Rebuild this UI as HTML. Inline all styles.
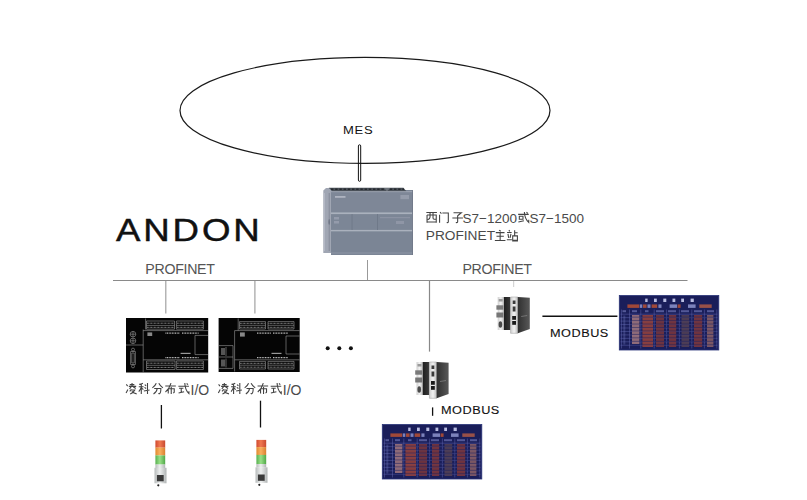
<!DOCTYPE html>
<html><head><meta charset="utf-8">
<style>
html,body{margin:0;padding:0;background:#fff;width:807px;height:500px;overflow:hidden;}
body{position:relative;font-family:"Liberation Sans",sans-serif;}
.t{position:absolute;white-space:nowrap;line-height:1;}
svg{position:absolute;left:0;top:0;}
</style></head><body>
<svg width="807" height="500" viewBox="0 0 807 500">
<defs>
<path id="c-xi" d="M4 8H96M10 30V96M10 30H90V96M10 90H90M36 8V46Q36 62 16 70M62 8V56Q62 66 72 66H90"/>
<path id="c-men" d="M16 4L28 17M12 28V98M36 12H88V88Q88 98 74 95"/>
<path id="c-zi" d="M14 10H82L50 36M50 34V88Q50 98 34 95M4 56H96"/>
<path id="c-huo" d="M4 24H96M14 40H46V66H14ZM6 90L54 80M58 4Q60 62 96 94V70M76 6L88 15"/>
<path id="c-zhu" d="M40 2L56 12M12 24H88M18 55H82M50 24V92M4 92H96"/>
<path id="c-zhan" d="M20 2L27 13M4 22H44M12 34L18 70M38 34L30 70M2 86H46M70 2V52M70 25H96M53 52H94V97H53ZM53 90H94"/>
<path id="c-ling" d="M6 14L18 28M4 88L20 58M56 2V30M36 16H76M28 31H92M48 35L34 52M66 35L88 50M50 56L36 74M46 62H80Q70 84 40 98M54 76Q74 92 96 96"/>
<path id="c-ke" d="M40 4Q26 12 8 14M4 34H46M26 12V98M26 38Q18 62 4 76M28 44L44 60M56 16L68 26M54 40L68 50M48 72L98 62M80 2V98"/>
<path id="c-fen" d="M38 4Q28 28 4 44M60 4Q72 28 96 44M20 50H78Q78 92 64 96L56 92M46 50Q44 80 14 98"/>
<path id="c-bu" d="M4 28H96M54 2Q40 50 6 80M30 52V92M30 52H82V80Q82 88 72 86M56 36V98"/>
<path id="c-shi" d="M4 30H96M60 2Q62 64 96 94V74M76 6L88 16M10 48H48M29 48V84M6 88L54 78"/>
</defs>

<!-- ellipse -->
<ellipse cx="365" cy="110.4" rx="185" ry="53" fill="none" stroke="#1a1a1a" stroke-width="1.2"/>
<!-- capsule -->
<rect x="358.4" y="144.8" width="2.3" height="36.5" rx="1.15" fill="none" stroke="#111" stroke-width="1"/>

<!-- PLC -->
<g id="plc">
<path d="M330.4 190H412.7V255H336L332.5 252.5H330.4Z" fill="#7c8696"/>
<path d="M323.3 190.5L326 188H331V253H323.3Z" fill="#a0a6b3"/>
<rect x="328.6" y="193" width="1.4" height="58" fill="#8c92a0"/>
<rect x="324.2" y="193" width="0.8" height="58" fill="#b8bcc8"/>
<ellipse cx="329.2" cy="222" rx="0.8" ry="3" fill="#6f7686"/>
<path d="M328.7 187.8H403.5L406.5 191.6H332.5Z" fill="#4a5058"/>
<path d="M331 189.2H404" stroke="#25292e" stroke-width="1.6" stroke-dasharray="2.4 1.8"/>
<path d="M384 188L387 191.5L390 188Z" fill="#6d737b"/>
<rect x="331" y="191.3" width="81.7" height="1.1" fill="#a6acb8"/>
<rect x="331" y="192.4" width="81.7" height="20" fill="#7e8797"/>
<rect x="335" y="196" width="10.5" height="1.8" fill="#aeb4c0"/>
<rect x="400.4" y="195" width="8.6" height="4.2" fill="#959cab"/>
<rect x="331" y="212.4" width="81.7" height="1.7" fill="#aab1bd"/>
<rect x="331" y="229.9" width="81.7" height="1.7" fill="#aab1bd"/>
<rect x="351.6" y="214" width="0.9" height="16" fill="#6e7888"/>
<rect x="377" y="214" width="0.9" height="16" fill="#6e7888"/>
<rect x="334" y="217" width="5" height="2.5" fill="#949bab"/>
<rect x="334" y="221" width="5" height="2.5" fill="#949bab"/>
<rect x="380" y="217" width="30" height="1.2" fill="#8c93a3"/>
<rect x="396" y="221" width="8" height="3" fill="#8f96a6"/>
<rect x="331" y="231.6" width="81.7" height="23.4" fill="#7b8595"/><rect x="331" y="252.5" width="81.7" height="1" fill="#8d96a5"/>
<rect x="412" y="190" width="0.8" height="65" fill="#6d7585"/>
</g>

<!-- bus -->
<line x1="113" y1="280.5" x2="687.5" y2="280.5" stroke="#8a8a8a" stroke-width="1.2"/>
<line x1="367.5" y1="260" x2="367.5" y2="280" stroke="#999" stroke-width="1"/>
<line x1="165.8" y1="281" x2="165.8" y2="313.6" stroke="#a2a2a2" stroke-width="1.2"/>
<line x1="254.9" y1="281" x2="254.9" y2="313.6" stroke="#a2a2a2" stroke-width="1.2"/>
<line x1="429.5" y1="281" x2="429.5" y2="351.6" stroke="#888" stroke-width="1.2"/>
<line x1="513.7" y1="281" x2="513.7" y2="287" stroke="#ccc" stroke-width="1"/>

<!-- IO modules -->
<g id="io1">
<rect x="126" y="318" width="82.2" height="54.5" fill="#050505"/>
<g fill="none" stroke="#9a9a9a" stroke-width="0.6">
<path d="M143.2 329.5V372.3M145.6 318.5V329.5M143.2 330.6H208M126 345H143.2M143.2 359.8H208"/>
<path d="M146.5 321H174.5V329.2H146.5ZM176.4 321H203.4V329.2H176.4ZM146.5 325.4H174.5M176.4 325.4H203.4"/>
<path d="M146.5 361H175V369.5H146.5ZM176.4 361H203.4V369.5H176.4ZM146.5 365.3H175M176.4 365.3H203.4"/>
<path d="M195 335.4H208M195 354.6H208M195 335.4V354.6"/>
<circle cx="133" cy="334.2" r="2.8"/><circle cx="133" cy="340.8" r="2.8"/>
<path d="M130.6 351.5H135.4V364.5H130.6Z"/><circle cx="133" cy="349.6" r="1.5"/><circle cx="133" cy="366.4" r="1.5"/><path d="M131.8 353H134.2V363H131.8Z"/>
<path d="M130.3 334.2H135.7M133 331.4V337M130.3 340.8H135.7M133 338V343.6"/>
</g>
<g stroke="#cfcfcf" stroke-width="1.2" stroke-dasharray="0.9 0.7">
<path d="M165.5 333.2H180M182 333.2H198.5M165.5 357.6H180M182 357.6H198.5"/>
</g>
<g stroke="#b0b0b0" stroke-width="0.9" stroke-dasharray="0.8 0.6">
<path d="M147 323.2H174M177 323.2H203M147 327.3H174M177 327.3H203M147 363.2H174M177 363.2H203M147 367.4H174M177 367.4H203"/>
</g>
<rect x="147.4" y="332.4" width="4.8" height="3.6" fill="#888"/>
<rect x="180.6" y="352.8" width="10" height="1.2" fill="#999"/>
</g>
<g id="io2">
<rect x="218.6" y="318" width="81.1" height="54" fill="#050505"/>
<g fill="none" stroke="#9a9a9a" stroke-width="0.6">
<path d="M234.6 330.6V371.5M238.2 318.5V330.6M234.6 330.6H299.7M234.6 359.8H299.7"/>
<path d="M239.5 321.6H265.5V329H239.5ZM268 321.6H294V329H268ZM239.5 325.3H265.5M268 325.3H294"/>
<path d="M239.5 361.4H265.5V369H239.5ZM268 361.4H294V369H268ZM239.5 365.2H265.5M268 365.2H294"/>
<path d="M286 336H299.7M286 354H299.7M286 336V354"/>
<path d="M219 345.6H233V368.4H219M219 357H233M226 347V356M226 358.5V367.4"/>
</g>
<g stroke="#cfcfcf" stroke-width="1.2" stroke-dasharray="0.9 0.7">
<path d="M257 333.2H271M273 333.2H288M257 357.6H271M273 357.6H288"/>
</g>
<g stroke="#b0b0b0" stroke-width="0.9" stroke-dasharray="0.8 0.6">
<path d="M240 323.3H265M268.5 323.3H293.5M240 327.3H265M268.5 327.3H293.5M240 363.3H265M268.5 363.3H293.5M240 367.2H265M268.5 367.2H293.5"/>
</g>
<rect x="240" y="332.4" width="4.8" height="4.2" fill="#888"/>
<rect x="221" y="348" width="4" height="7" fill="#555"/><rect x="221" y="359.5" width="4" height="7" fill="#555"/>
<rect x="271.5" y="352.8" width="10" height="1.2" fill="#999"/>
</g>

<!-- dots -->
<circle cx="327.7" cy="348.3" r="2" fill="#111"/>
<circle cx="339.3" cy="348.3" r="2" fill="#111"/>
<circle cx="350.9" cy="348.3" r="2" fill="#111"/>

<!-- gateways -->
<defs>
<linearGradient id="gsil" x1="0" x2="1" y1="0" y2="0"><stop offset="0" stop-color="#cfcfcf"/><stop offset="0.5" stop-color="#f2f2f2"/><stop offset="1" stop-color="#bdbdbd"/></linearGradient>
<linearGradient id="gdark" x1="0" x2="1" y1="0" y2="0"><stop offset="0" stop-color="#1e1e1e"/><stop offset="1" stop-color="#3a3a3a"/></linearGradient>
<linearGradient id="gdark2" x1="0" x2="1" y1="0" y2="0"><stop offset="0" stop-color="#303030"/><stop offset="1" stop-color="#585858"/></linearGradient>
</defs>
<g id="gw">
<rect x="416.5" y="362" width="6.2" height="33" fill="url(#gsil)"/>
<rect x="422.7" y="362" width="6.5" height="33" fill="url(#gdark)"/>
<rect x="415.2" y="370.3" width="7" height="4.4" fill="#7a7a7a"/>
<rect x="415.2" y="377.5" width="7" height="5" fill="#767676"/>
<rect x="417.5" y="364" width="4" height="2.5" fill="#9a9a9a"/>
<ellipse cx="419.2" cy="389.5" rx="1.8" ry="3.3" fill="#4a4a4a"/>
<path d="M429.4 362H436.6V398.3H429.4Z" fill="url(#gsil)" stroke="#9a9a9a" stroke-width="0.5"/>
<path d="M436.6 362L448.6 362.8V394L436.6 398.3Z" fill="url(#gdark2)"/>
<rect x="431.5" y="365.5" width="2.8" height="3.5" fill="#3a3a3a"/>
<rect x="431.5" y="371.5" width="2.8" height="5" fill="#3a3a3a"/>
<rect x="431" y="381" width="3.8" height="3.8" fill="#1a1a1a"/>
<rect x="431" y="386" width="3.8" height="3.8" fill="#1a1a1a"/>
<path d="M440 381.5L446 380.5" stroke="#888" stroke-width="0.7"/>
</g>
<use href="#gw" transform="translate(81.2,-65)"/>

<!-- modbus lines -->
<line x1="542.4" y1="316.3" x2="617.4" y2="316.3" stroke="#111" stroke-width="1.5"/>
<line x1="432.6" y1="407.4" x2="432.6" y2="415.8" stroke="#111" stroke-width="1.3"/>
<line x1="161.4" y1="405" x2="161.4" y2="428.5" stroke="#111" stroke-width="1.3"/>
<line x1="260.5" y1="400.7" x2="260.5" y2="427.5" stroke="#111" stroke-width="1.3"/>

<!-- boards -->
<g id="board">
<rect x="619.3" y="295.5" width="99.5" height="54.5" fill="#1a1e5a"/>
<rect x="619.3" y="295.5" width="99.5" height="54.5" fill="none" stroke="#2a3478" stroke-width="0.8"/>
<g fill="#b8bce0">
<rect x="645.2" y="298.6" width="2.4" height="3.4"/><rect x="654" y="298.6" width="2.8" height="3.4"/>
<rect x="663.3" y="298.6" width="3" height="3.4"/><rect x="672.5" y="298.6" width="2.8" height="3.4"/>
<rect x="681.2" y="298.6" width="2.8" height="3.4"/><rect x="690.6" y="298.6" width="3.2" height="3.4"/>
</g>
<g fill="#a04838">
<rect x="627.4" y="304.4" width="11.8" height="3.5"/><rect x="643" y="304.4" width="3.6" height="3.5"/><rect x="651.6" y="304.4" width="5.6" height="3.5"/>
<rect x="677.6" y="304.4" width="3" height="3.5"/><rect x="699.3" y="304.4" width="12.4" height="3.5" fill="#985048"/>
</g>
<g fill="#7c82bc">
<rect x="639.8" y="304.4" width="2.5" height="3.5"/><rect x="647.5" y="304.4" width="3" height="3.5"/><rect x="658.4" y="304.4" width="3.1" height="3.5"/>
<rect x="669.6" y="304.4" width="7.4" height="3.5"/><rect x="688" y="304.4" width="7.6" height="3.5"/>
</g>
<g fill="#7a80c0" opacity="0.6">
<rect x="622.5" y="310.2" width="3.5" height="2"/><rect x="632" y="310.2" width="5" height="2"/><rect x="645" y="310.2" width="3.5" height="2"/>
<rect x="656" y="310.2" width="8" height="2"/><rect x="668" y="310.2" width="8" height="2"/><rect x="681" y="310.2" width="8" height="2"/>
<rect x="694" y="310.2" width="8" height="2"/><rect x="707" y="310.2" width="7" height="2"/>
</g>
<path d="M620.5 314.20H717.5M620.5 317.65H717.5M620.5 321.10H717.5M620.5 324.55H717.5M620.5 328.00H717.5M620.5 331.45H717.5M620.5 334.90H717.5M620.5 338.35H717.5M620.5 341.80H717.5M620.5 345.25H717.5M621.5 309.5V348.5M629.5 309.5V348.5M640.8 309.5V348.5M654.2 309.5V348.5M666.6 309.5V348.5M679.4 309.5V348.5M691.8 309.5V348.5M704.4 309.5V348.5M716.8 309.5V348.5" stroke="#5c62aa" stroke-width="0.5" fill="none"/>
<rect x="632" y="315" width="7.4" height="29" fill="#c08a84" opacity="0.7"/>
<rect x="642.4" y="315" width="10.6" height="32" fill="#b04a34" opacity="0.72"/>
<rect x="656" y="315" width="8" height="32" fill="#8a3a34" opacity="0.72"/>
<rect x="669" y="315" width="7.2" height="32" fill="#923c34" opacity="0.72"/>
<rect x="681.5" y="315" width="7.7" height="32" fill="#5e4652" opacity="0.72"/>
<rect x="694" y="315" width="8.2" height="32" fill="#923c34" opacity="0.72"/>
<rect x="707" y="315" width="6.4" height="32" fill="#a06c66" opacity="0.72"/>
<path d="M630 317.20H716M630 320.65H716M630 324.10H716M630 327.55H716M630 331.00H716M630 334.45H716M630 337.90H716M630 341.35H716M630 344.80H716" stroke="#1a1e5a" stroke-width="0.9" fill="none" opacity="0.6"/>
<rect x="623.3" y="315.5" width="2" height="29" fill="#6e76b8" opacity="0.35"/>
</g>
<use href="#board" transform="translate(-237,129)"/>

<!-- towers -->
<defs>
<linearGradient id="tR" x1="0" x2="1"><stop offset="0" stop-color="#d04a30"/><stop offset="0.45" stop-color="#f07850"/><stop offset="1" stop-color="#c84a30"/></linearGradient>
<linearGradient id="tO" x1="0" x2="1"><stop offset="0" stop-color="#e08a30"/><stop offset="0.45" stop-color="#f8b060"/><stop offset="1" stop-color="#d88030"/></linearGradient>
<linearGradient id="tG" x1="0" x2="1"><stop offset="0" stop-color="#58b050"/><stop offset="0.45" stop-color="#98e088"/><stop offset="1" stop-color="#50a848"/></linearGradient>
<linearGradient id="tW" x1="0" x2="1"><stop offset="0" stop-color="#b8bcbc"/><stop offset="0.45" stop-color="#eef0f0"/><stop offset="1" stop-color="#b0b4b4"/></linearGradient>
</defs>
<g id="tower">
<rect x="155.4" y="440.4" width="9.8" height="7.3" fill="url(#tR)"/>
<rect x="155.4" y="447.6" width="9.8" height="7.9" fill="url(#tO)"/>
<rect x="155.4" y="455.4" width="9.8" height="9.2" fill="url(#tG)"/>
<rect x="155.4" y="464.5" width="9.8" height="3.5" fill="url(#tW)"/>
<rect x="154.5" y="467.8" width="12" height="15.5" fill="url(#tW)"/>
<rect x="156.9" y="475" width="6.8" height="6.3" fill="#3a3a3a"/>
<circle cx="158.3" cy="485.3" r="1.1" fill="#222"/>
</g>
<use href="#tower" transform="translate(101,-0.5)"/>

<!-- CJK text -->
<g stroke="#444" stroke-width="9.5" fill="none">
<use href="#c-xi" transform="translate(425.9,211.6) scale(0.115)"/>
<use href="#c-men" transform="translate(438.2,211.6) scale(0.115)"/>
<use href="#c-zi" transform="translate(451.9,211.6) scale(0.115)"/>
<use href="#c-huo" transform="translate(517.7,211.6) scale(0.115)"/>
<use href="#c-zhu" transform="translate(494.4,229.9) scale(0.115)"/>
<use href="#c-zhan" transform="translate(506.6,229.9) scale(0.115)"/>
</g>
<g id="iolbl" stroke="#444" stroke-width="9.5" fill="none">
<use href="#c-ling" transform="translate(125.6,382.8) scale(0.115)"/>
<use href="#c-ke" transform="translate(138.3,382.8) scale(0.115)"/>
<use href="#c-fen" transform="translate(151.9,382.8) scale(0.115)"/>
<use href="#c-bu" transform="translate(164.8,382.8) scale(0.115)"/>
<use href="#c-shi" transform="translate(177.9,382.8) scale(0.115)"/>
</g>
<use href="#iolbl" transform="translate(92.3,0)"/>
</svg>

<div class="t" style="left:343px;top:126px;font-size:10px;color:#111;letter-spacing:0.6px;transform:scaleX(1.3);transform-origin:0 0;">MES</div>
<div class="t" style="left:116.3px;top:214.5px;font-size:30.5px;color:#111;letter-spacing:2.4px;transform:scaleX(1.2);transform-origin:0 0;-webkit-text-stroke:0.45px #111;">ANDON</div>
<div class="t" style="left:145.3px;top:261.6px;font-size:14.2px;color:#555;letter-spacing:-0.3px;">PROFINET</div>
<div class="t" style="left:462.4px;top:261.6px;font-size:14.2px;color:#555;letter-spacing:-0.3px;">PROFINET</div>
<div class="t" style="left:462.6px;top:211.6px;font-size:13.5px;color:#4a4a4a;">S7&#8722;1200</div>
<div class="t" style="left:529.6px;top:211.6px;font-size:13.5px;color:#4a4a4a;">S7&#8722;1500</div>
<div class="t" style="left:425.8px;top:229px;font-size:13.7px;color:#4a4a4a;">PROFINET</div>
<div class="t" style="left:190.5px;top:382.6px;font-size:14px;color:#4a4a4a;">I/O</div>
<div class="t" style="left:282.8px;top:382.6px;font-size:14px;color:#4a4a4a;">I/O</div>
<div class="t" style="left:549.8px;top:328.6px;font-size:10px;color:#111;letter-spacing:0.4px;transform:scaleX(1.27);-webkit-text-stroke:0.1px #111;transform-origin:0 0;">MODBUS</div>
<div class="t" style="left:440.6px;top:406.2px;font-size:10px;color:#111;letter-spacing:0.4px;transform:scaleX(1.27);-webkit-text-stroke:0.1px #111;transform-origin:0 0;">MODBUS</div>
</body></html>
